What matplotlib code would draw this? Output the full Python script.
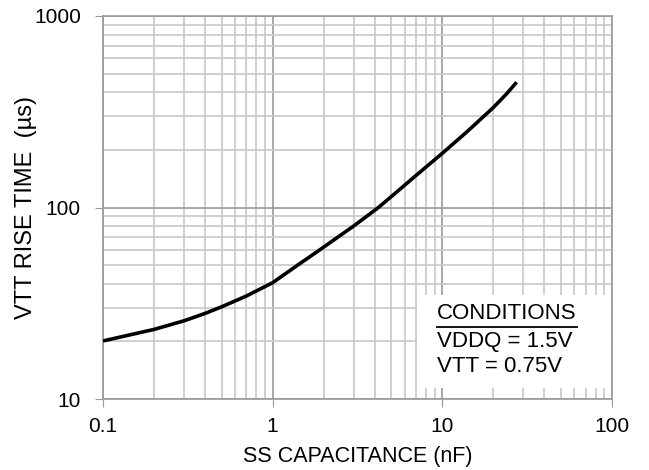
import matplotlib.pyplot as plt
from matplotlib.lines import Line2D
from matplotlib.patches import Rectangle

plt.rcParams["font.family"] = ["Liberation Sans", "DejaVu Sans"]

# SS capacitance (nF) vs VTT rise time (us)
cap_nf = [0.1, 0.2, 0.3, 0.4, 0.5, 0.7, 1.0, 1.38, 1.89, 2.42, 3.0, 4.2,
          5.0, 7.0, 10.0, 14.0, 20.0, 23.9, 27.4]
rise_us = [20.1, 23.1, 25.6, 28.0, 30.3, 34.5, 40.5, 49.5, 60.0, 70.0, 80.0, 100.0,
           114.0, 147.0, 192.0, 249.0, 333.0, 392.0, 451.0]

xticks = [0.1, 1, 10, 100]
xtick_labels = ["0.1", "1", "10", "100"]
yticks = [10, 100, 1000]
ytick_labels = ["10", "100", "1000"]

conditions = ["CONDITIONS", "VDDQ = 1.5V", "VTT = 0.75V"]

fig = plt.figure(figsize=(6.49, 4.70), dpi=100)
ax = fig.add_axes([0.1587, 0.151, 0.7843, 0.815])

ax.plot(cap_nf, rise_us, color="black", linewidth=2.6, solid_capstyle="butt",
        solid_joinstyle="round", zorder=3)

ax.set_xscale("log")
ax.set_yscale("log")
ax.set_xlim(0.1, 100)
ax.set_ylim(10, 1000)
ax.set_xticks(xticks)
ax.set_xticklabels(xtick_labels)
ax.set_yticks(yticks)
ax.set_yticklabels(ytick_labels)

ax.grid(True, which="major", color="#9a9a9a", linewidth=1.2)
ax.grid(True, which="minor", color="#c8c8c8", linewidth=1.2)
ax.set_axisbelow(True)
ax.tick_params(which="major", direction="out", length=6, color="#9a9a9a",
               labelsize=15)
ax.tick_params(which="minor", length=0)
ax.tick_params(axis="x", pad=7)
ax.tick_params(axis="y", pad=10)
for sp in ax.spines.values():
    sp.set_color("#9a9a9a")
    sp.set_linewidth(1.2)

ax.set_xlabel("SS CAPACITANCE (nF)", fontsize=15.5)
ax.set_ylabel("VTT RISE TIME  (µs)", fontsize=17)
ax.xaxis.set_label_coords(0.5, -0.122)
ax.yaxis.set_label_coords(-0.13, 0.5)

# conditions box
ax.add_patch(Rectangle((0.617, 0.029), 0.381, 0.243, transform=ax.transAxes,
                       facecolor="white", edgecolor="none", zorder=4))
ys = [0.2245, 0.149, 0.086]
for txt, yy in zip(conditions, ys):
    ax.text(0.656, yy, txt, transform=ax.transAxes, fontsize=16,
            va="center", ha="left", zorder=5)
ax.add_line(Line2D([0.656, 0.932], [0.188, 0.188], transform=ax.transAxes,
                   color="black", linewidth=1.3, zorder=5))

fig.savefig("out.png", dpi=100)
